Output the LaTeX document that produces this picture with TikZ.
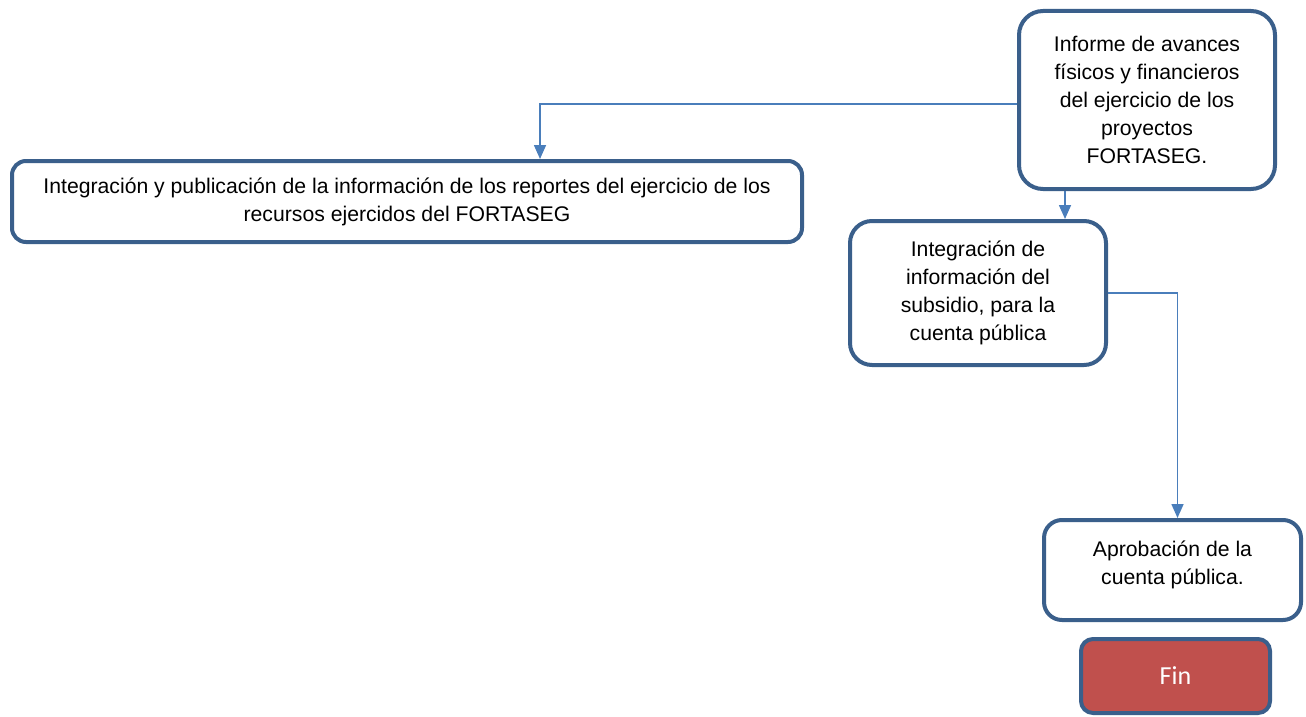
\documentclass[tikz,border=0pt]{standalone}
\usepackage{fontspec}
\setmainfont{Liberation Sans}
\newfontfamily\carlito{Carlito}
\usetikzlibrary{arrows.meta}
\definecolor{boxline}{HTML}{3A5F8B}
\definecolor{arrline}{HTML}{4A7EBB}
\definecolor{finfill}{HTML}{C0504D}
\tikzset{
  x=1pt, y=-1pt,
  procbox/.style={draw=boxline, line width=4pt, fill=white, align=center, inner sep=0pt,
    font=\fontsize{21.2}{28}\selectfont},
  finbox/.style={draw=boxline, line width=4pt, fill=finfill, text=white, align=center, inner sep=0pt,
    font=\carlito\fontsize{26}{30}\selectfont, rounded corners=12pt},
  arr/.style={draw=arrline, line width=1.6pt, -{Triangle[length=14pt,width=12pt]}}
}
\begin{document}
\begin{tikzpicture}
\useasboundingbox (0,0) rectangle (1306,717);
\node[procbox, minimum width=256pt, minimum height=178pt, rounded corners=24pt] (inf) at (1147,100)
  {Informe de avances\\físicos y financieros\\del ejercicio de los\\proyectos\\FORTASEG.};
\node[procbox, minimum width=790pt, minimum height=81pt, rounded corners=14pt] (pub) at (407,201.5)
  {Integración y publicación de la información de los reportes del ejercicio de los\\recursos ejercidos del FORTASEG};
\node[procbox, minimum width=256pt, minimum height=144pt, rounded corners=22pt] (integ) at (978,293)
  {Integración de\\información del\\subsidio, para la\\cuenta pública};
\node[procbox, minimum width=257pt, minimum height=100pt, rounded corners=18pt] (apro) at (1172.5,570)
  {Aprobación de la\\cuenta pública.\\[-14pt]};
\node[finbox, minimum width=189pt, minimum height=74pt] (fin) at (1175.5,676) {Fin};
\draw[arr] ([yshift=-4pt]inf.west) -| ([xshift=133pt]pub.north);
\draw[arr] ([xshift=-82pt]inf.south) -- ([xshift=-82pt]inf.south |- integ.north);
\draw[arr] (integ.east) -| ([xshift=5pt]apro.north);
\end{tikzpicture}
\end{document}
